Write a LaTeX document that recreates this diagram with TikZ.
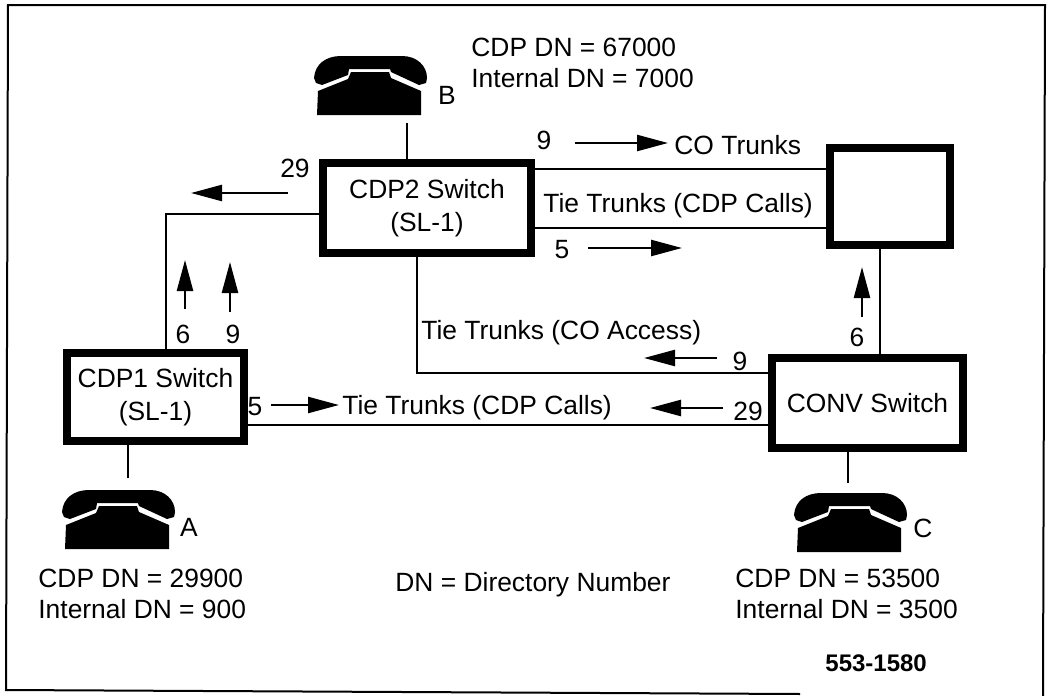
\documentclass[tikz,border=0pt]{standalone}
\usepackage{fontspec}
\setmainfont{Liberation Sans}
\usepackage{tikz}
\usetikzlibrary{arrows.meta, positioning, calc}
\tikzset{
    % Node styles
    switchbox/.style={
        rectangle,
        draw=black,
        fill=white,
        line width=4pt,
        inner sep=0pt,
        text centered,
        align=center,
        font=\fontsize{13.2}{16.5}\selectfont
    },
    numlabel/.style={
        inner sep=0pt,
        font=\fontsize{13.2}{16}\selectfont
    },
    textlabel/.style={
        anchor=base west,
        inner sep=0pt,
        font=\fontsize{13.2}{16}\selectfont
    },
    % Line styles
    trunkline/.style={
        draw=black,
        line width=0.7pt
    },
    flowarrow/.style={
        -{Triangle[length=15.5pt,width=8pt]},
        line width=1.2pt,
        black
    },
    % Telephone set, origin at its top left corner
    phone/.pic={
        \fill[black] (0,22) .. controls (1,8) and (12,0) .. (27,0) -- (88,0)
            .. controls (103,0) and (113,10) .. (113,22) -- (112,27) -- (105,29)
            -- (77,16) -- (76,13) -- (35,13) -- (34,19) -- (8,29) -- (2,27) -- cycle;
        \fill[black] (4,35) -- (34,23) -- (37,16) -- (75,16) -- (77,22) -- (107,35)
            -- (107,59) -- (3,59) -- cycle;
    }
}
\begin{document}
\begin{tikzpicture}[x=0.5pt,y=-0.5pt]
    \useasboundingbox (0,0) rectangle (1050,696);

    % Outer frame
    \draw[line width=1pt] (800,694) -- (6,690) -- (8,5) -- (1045,5) -- (1043,696);

    % Switches
    \node[switchbox,minimum width=104pt,minimum height=45pt] (cdp2) at (427,208) {CDP2 Switch\\(SL-1)};
    \node[switchbox,minimum width=88.5pt,minimum height=44pt] (cdp1) at (155.5,397) {CDP1 Switch\\(SL-1)};
    \node[switchbox,minimum width=95.5pt,minimum height=45pt] (conv) at (867.5,403) {CONV Switch};
    \node[switchbox,minimum width=60pt,minimum height=48.5pt] (co) at (890,196.5) {};

    % Telephones
    \pic at (314,56) {phone};
    \pic at (62,490) {phone};
    \pic at (794,493) {phone};
    \node[numlabel] (phoneB) at (447,95) {B};
    \node[numlabel] (phoneA) at (189,527) {A};
    \node[numlabel] (phoneC) at (923,528) {C};

    % Telephone stems
    \coordinate (stemB) at (407,123);
    \coordinate (stemA) at (128,478);
    \coordinate (stemC) at (848,483);
    \draw[trunkline] (stemB) -- (stemB |- cdp2.north);
    \draw[trunkline] (stemA) -- (stemA |- cdp1.south);
    \draw[trunkline] (stemC) -- (stemC |- conv.south);

    % Trunks
    \coordinate (leftBend) at (166,214);
    \coordinate (coTrunk) at (680,169);
    \coordinate (tieTrunk) at (680,228);
    \coordinate (accessBend) at (417,373);
    \coordinate (lowTrunk) at (500,425);
    \coordinate (coDrop) at (880,300);
    \draw[trunkline] (cdp2.west |- leftBend) -- (leftBend) -- (leftBend |- cdp1.north);
    \draw[trunkline] (cdp2.east |- coTrunk) -- (co.west |- coTrunk);
    \draw[trunkline] (cdp2.east |- tieTrunk) -- (co.west |- tieTrunk);
    \draw[trunkline] (accessBend |- cdp2.south) -- (accessBend) -- (conv.west |- accessBend);
    \draw[trunkline] (cdp1.east |- lowTrunk) -- (conv.west |- lowTrunk);
    \draw[trunkline] (coDrop |- co.south) -- (coDrop |- conv.north);

    % Arrows
    \coordinate (arrTopS) at (575,143);
    \coordinate (arrTopT) at (668,143);
    \coordinate (arrLeftS) at (288,193);
    \coordinate (arrLeftT) at (191,193);
    \coordinate (arrUpAS) at (185,309);
    \coordinate (arrUpAT) at (185,260);
    \coordinate (arrUpBS) at (230,312);
    \coordinate (arrUpBT) at (230,262);
    \coordinate (arrTieS) at (588,248);
    \coordinate (arrTieT) at (682,248);
    \coordinate (arrCoS) at (862,317);
    \coordinate (arrCoT) at (862,267);
    \coordinate (arrAccS) at (717,358);
    \coordinate (arrAccT) at (644,358);
    \coordinate (arrLowS) at (271,405);
    \coordinate (arrLowT) at (339,405);
    \coordinate (arrBackS) at (723,408);
    \coordinate (arrBackT) at (650,408);
    \draw[flowarrow] (arrTopS) -- (arrTopT);
    \draw[flowarrow] (arrLeftS) -- (arrLeftT);
    \draw[flowarrow] (arrUpAS) -- (arrUpAT);
    \draw[flowarrow] (arrUpBS) -- (arrUpBT);
    \draw[flowarrow] (arrTieS) -- (arrTieT);
    \draw[flowarrow] (arrCoS) -- (arrCoT);
    \draw[flowarrow] (arrAccS) -- (arrAccT);
    \draw[flowarrow] (arrLowS) -- (arrLowT);
    \draw[flowarrow] (arrBackS) -- (arrBackT);

    % Trunk access digits
    \node[numlabel] (numTop) at (544,140) {9};
    \node[numlabel] (numLeft) at (295,168) {29};
    \node[numlabel] (numUpA) at (183,334) {6};
    \node[numlabel] (numUpB) at (233,334) {9};
    \node[numlabel] (numTie) at (562,250) {5};
    \node[numlabel] (numCo) at (857,337) {6};
    \node[numlabel] (numAcc) at (740,361) {9};
    \node[numlabel] (numLow) at (255,407) {5};
    \node[numlabel] (numBack) at (748,411) {29};

    % Trunk labels
    \node[textlabel] (lblCo) at (674,154) {CO Trunks};
    \node[textlabel] (lblTieTop) at (543,212) {Tie Trunks (CDP Calls)};
    \node[textlabel] (lblAccess) at (421,339) {Tie Trunks (CO Access)};
    \node[textlabel] (lblTieLow) at (342,414) {Tie Trunks (CDP Calls)};

    % Directory numbers
    \node[textlabel] (dnB) at (471,56) {CDP DN = 67000};
    \node[textlabel] (intB) at (471,87) {Internal DN = 7000};
    \node[textlabel] (dnA) at (38,587) {CDP DN = 29900};
    \node[textlabel] (intA) at (38,618) {Internal DN = 900};
    \node[textlabel] (dnC) at (735,587) {CDP DN = 53500};
    \node[textlabel] (intC) at (735,618) {Internal DN = 3500};
    \node[textlabel] (legend) at (395,591) {DN = Directory Number};
    \node[textlabel,font=\fontsize{12}{14}\selectfont\bfseries] (figNum) at (825,671) {553-1580};
\end{tikzpicture}
\end{document}
